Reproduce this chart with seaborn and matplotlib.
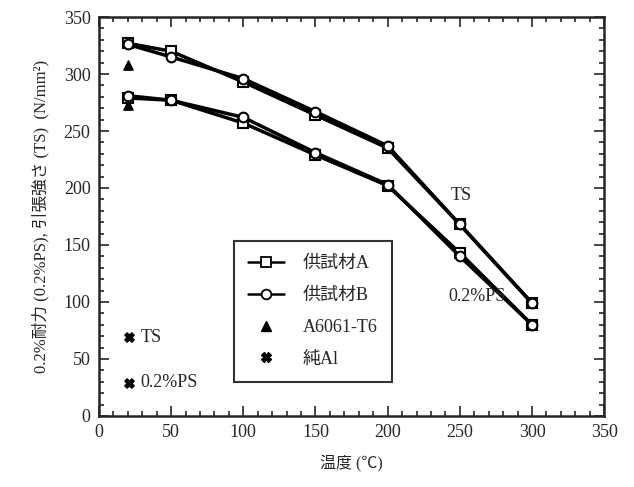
import numpy as np
import pandas as pd
import matplotlib
matplotlib.use("Agg")
import matplotlib.pyplot as plt
from matplotlib.lines import Line2D
from matplotlib.ticker import MultipleLocator
import seaborn as sns

temps = [20, 50, 100, 150, 200, 250, 300]
ts_a = [327, 320, 293, 264, 235, 168, 99]
ts_b = [326, 315, 296, 267, 237, 168, 99]
ps_a = [279, 277, 257, 229, 202, 143, 80]
ps_b = [281, 277, 262, 231, 203, 140, 80]

a6061_temp = [20, 20]
a6061_vals = [308, 273]
pure_al_temp = [21, 21]
pure_al_vals = [69, 29]
pure_al_labels = ["TS", "0.2%PS"]

sns.set_style("ticks")
plt.rcParams["font.family"] = ["Liberation Serif", "Noto Sans CJK JP"]
plt.rcParams["xtick.direction"] = "in"
plt.rcParams["ytick.direction"] = "in"

rows = []
for name, vals, mat in [("TS_A", ts_a, "A"), ("TS_B", ts_b, "B"),
                        ("PS_A", ps_a, "A"), ("PS_B", ps_b, "B")]:
    for t, v in zip(temps, vals):
        rows.append({"temp": t, "val": v, "series": name, "mat": mat})
df = pd.DataFrame(rows)

fig = plt.figure(figsize=(6.34, 4.87), dpi=100)
ax = fig.add_axes([0.156, 0.146, 0.797, 0.819])

markers = {"A": "s", "B": "o"}
for name, sub in df.groupby("series"):
    mat = sub["mat"].iloc[0]
    sns.lineplot(data=sub, x="temp", y="val", ax=ax, color="black",
                 linewidth=2.5, marker=markers[mat], markersize=7,
                 markerfacecolor="white", markeredgecolor="black",
                 markeredgewidth=1.5, legend=False)

ax.scatter(a6061_temp, a6061_vals, marker="^", color="black", s=45, zorder=5)
ax.scatter(pure_al_temp, pure_al_vals, marker="X", color="black", s=45, zorder=5)
for t, v, lab in zip(pure_al_temp, pure_al_vals, pure_al_labels):
    ax.text(t + 8, v, lab, fontsize=13, va="center", ha="left")

ax.text(251, 193, "TS", fontsize=13, ha="center", va="center")
ax.text(262, 105, "0.2%PS", fontsize=13, ha="center", va="center")

ax.set_xlim(0, 350)
ax.set_ylim(0, 350)
ax.xaxis.set_major_locator(MultipleLocator(50))
ax.xaxis.set_minor_locator(MultipleLocator(10))
ax.yaxis.set_major_locator(MultipleLocator(50))
ax.yaxis.set_minor_locator(MultipleLocator(10))
ax.tick_params(which="both", top=True, right=True, width=1.2)
ax.tick_params(which="major", length=7, labelsize=13, pad=6)
ax.tick_params(which="minor", length=3.5)
for sp in ax.spines.values():
    sp.set_linewidth(1.8)

ax.set_xlabel("温度 (℃)", fontsize=11.5, labelpad=10)
ax.set_ylabel("0.2%耐力 (0.2%PS), 引張強さ (TS)  (N/mm²)", fontsize=12, labelpad=10)

handles = [
    Line2D([], [], color="black", lw=1.8, marker="s", markersize=7,
           markerfacecolor="white", markeredgewidth=1.3),
    Line2D([], [], color="black", lw=1.8, marker="o", markersize=7,
           markerfacecolor="white", markeredgewidth=1.3),
    Line2D([], [], color="black", lw=0, marker="^", markersize=7),
    Line2D([], [], color="black", lw=0, marker="X", markersize=7),
]
leg = ax.legend(handles, ["供試材A", "供試材B", "A6061-T6", "純Al"],
                loc="lower left", bbox_to_anchor=(0.249, 0.062),
                frameon=True, fancybox=False, edgecolor="black",
                fontsize=13, handlelength=2.0, labelspacing=0.82,
                borderpad=0.8, handletextpad=1.0)
leg.get_frame().set_linewidth(1.5)

fig.savefig("out.png", dpi=100)
